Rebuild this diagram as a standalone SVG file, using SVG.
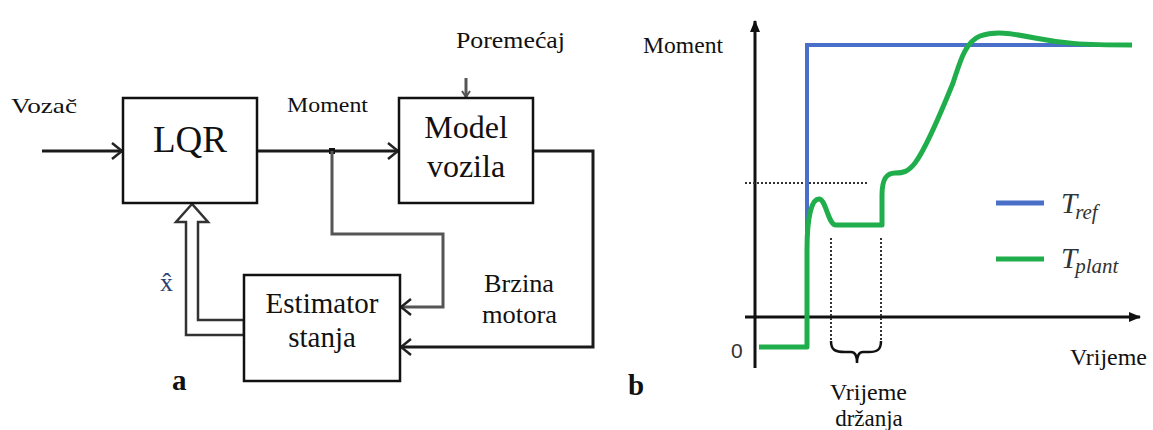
<svg xmlns="http://www.w3.org/2000/svg" width="1153" height="430" viewBox="0 0 1153 430">
<defs>
<style>
text{font-family:"Liberation Serif","Times New Roman",serif;fill:#111}
.box{fill:#fff;stroke:#111;stroke-width:2.5}
.ln{fill:none;stroke:#1a1a1a;stroke-width:3}
.gl{fill:none;stroke:#555;stroke-width:3}
.dot{fill:none;stroke:#333;stroke-width:2;stroke-dasharray:2,2}
.mid{text-anchor:middle}
</style>
<marker id="chev" markerUnits="userSpaceOnUse" viewBox="0 0 12 18" refX="11" refY="9" markerWidth="12" markerHeight="18" orient="auto">
<path d="M1,1 L11,9 L1,17" fill="none" stroke="#222" stroke-width="2.5"/>
</marker>
<marker id="chevS" markerUnits="userSpaceOnUse" viewBox="0 0 8 10" refX="7" refY="5" markerWidth="8" markerHeight="10" orient="auto">
<path d="M1,1 L7,5 L1,9" fill="none" stroke="#555" stroke-width="2"/>
</marker>
<marker id="tri" markerUnits="userSpaceOnUse" viewBox="0 0 12 10" refX="11" refY="5" markerWidth="12" markerHeight="10" orient="auto">
<path d="M0,0 L12,5 L0,10 Z" fill="#111"/>
</marker>
</defs>
<rect width="1153" height="430" fill="#fff"/>

<!-- Panel a: connectors -->
<g id="connectors">
<path class="ln" d="M42,151 H122" marker-end="url(#chev)"/>
<path class="ln" d="M257,151 H398" marker-end="url(#chev)"/>
<rect x="329" y="148" width="6" height="6" fill="#111"/>
<path class="gl" d="M332,151 V234 H443 V307 H401" marker-end="url(#chev)"/>
<path class="ln" d="M533,151 H593 V347 H401" marker-end="url(#chev)"/>
<path d="M466,78 V97" fill="none" stroke="#555" stroke-width="3" marker-end="url(#chevS)"/>
<path d="M192,204 L176,222 L186,222 L186,335 L244,335 L244,320 L198,320 L198,222 L208,222 Z" fill="#fff" stroke="#333" stroke-width="2.5" stroke-linejoin="miter"/>
</g>

<g id="lqr">
<rect class="box" x="123" y="98" width="134" height="105"/>
<text class="mid" x="190" y="152" font-size="37">LQR</text>
</g>
<g id="model">
<rect class="box" x="399" y="98" width="134" height="105"/>
<text class="mid" x="466" y="138" font-size="32">Model</text>
<text class="mid" x="466" y="177" font-size="32">vozila</text>
</g>
<g id="estimator">
<rect class="box" x="244" y="275" width="156" height="106"/>
<text class="mid" x="322" y="313" font-size="29">Estimator</text>
<text class="mid" x="322" y="347" font-size="29">stanja</text>
</g>

<g id="labels-a">
<text x="11" y="113" font-size="22" textLength="66" lengthAdjust="spacingAndGlyphs">Vozač</text>
<text x="287" y="112" font-size="22" textLength="81" lengthAdjust="spacingAndGlyphs">Moment</text>
<text x="456" y="48" font-size="23" textLength="109" lengthAdjust="spacingAndGlyphs">Poremećaj</text>
<text x="484" y="292" font-size="25" textLength="70" lengthAdjust="spacingAndGlyphs">Brzina</text>
<text x="482" y="323" font-size="25" textLength="75" lengthAdjust="spacingAndGlyphs">motora</text>
<text x="160" y="291" font-size="26" style="fill:#2b3f70">x̂</text>
<text x="172" y="390" font-size="29" font-weight="bold">a</text>
</g>

<!-- Panel b: chart -->
<g id="chart">
<path d="M745,317 H1140" fill="none" stroke="#111" stroke-width="3" marker-end="url(#tri)"/>
<path d="M755,368 V21" fill="none" stroke="#111" stroke-width="3" marker-end="url(#tri)"/>
<path class="dot" d="M745,183 H867"/>
<path class="dot" d="M831,238 V340"/>
<path class="dot" d="M881,238 V340"/>
<path d="M759,347 H807 V45 H1132" fill="none" stroke="#4a6fc9" stroke-width="4"/>
<path d="M759,347 H807 V250 C807,215 812,199 819,199 C826,199 828,225 836,225 H882 V195 C882,178 887,173 895,173 C903,173 908,172 915,163 C925,150 940,115 953,83 C960,62 965,42 980,36 C995,31 1010,33 1035,38 C1060,43 1080,45 1132,45" fill="none" stroke="#1fae4b" stroke-width="5" stroke-linejoin="round"/>
<path d="M831,341 C831,350 835,352 845,352 H851 C855,352 857,356 857,363 C857,356 859,352 863,352 H869 C877,352 881,350 881,341" fill="none" stroke="#111" stroke-width="2.5"/>
</g>
<g id="legend">
<path d="M996,203 H1044" stroke="#4a6fc9" stroke-width="5"/>
<path d="M996,259 H1044" stroke="#1fae4b" stroke-width="5"/>
<text x="1061" y="213" font-size="29" font-style="italic" style="fill:#333">T<tspan font-size="21" dx="-2" dy="6">ref</tspan></text>
<text x="1061" y="268" font-size="29" font-style="italic" style="fill:#333">T<tspan font-size="21" dx="-2" dy="5">plant</tspan></text>
</g>
<g id="labels-b">
<text x="643" y="53" font-size="23" textLength="80" lengthAdjust="spacingAndGlyphs">Moment</text>
<text x="731" y="358" font-size="21" style="font-family:'Liberation Sans',Arial,sans-serif;fill:#333">0</text>
<text x="628" y="395" font-size="29" font-weight="bold">b</text>
<text x="830" y="400" font-size="23" textLength="77" lengthAdjust="spacingAndGlyphs">Vrijeme</text>
<text class="mid" x="869" y="426" font-size="23">držanja</text>
<text x="1070" y="365" font-size="23" textLength="77" lengthAdjust="spacingAndGlyphs">Vrijeme</text>
</g>
</svg>
